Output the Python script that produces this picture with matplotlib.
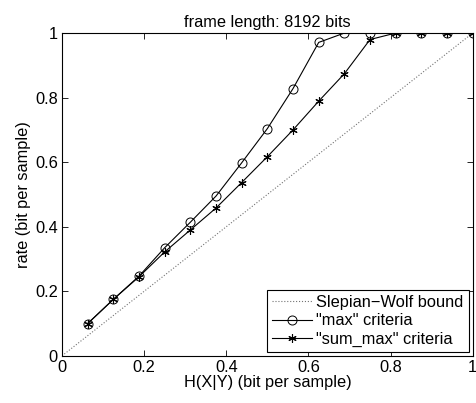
import numpy as np
import matplotlib.pyplot as plt

plt.rcParams['font.family'] = ['Liberation Sans', 'DejaVu Sans']

# H(X|Y) values
h_xy = [0.0625, 0.125, 0.1875, 0.25, 0.3125, 0.375, 0.4375, 0.5,
        0.5625, 0.625, 0.6875, 0.75, 0.8125, 0.875, 0.9375, 1.0]
# rate for "max" criteria
rate_max = [0.1, 0.175, 0.247, 0.335, 0.414, 0.495, 0.598, 0.704,
            0.828, 0.971, 1.0, 1.0, 1.0, 1.0, 1.0, 1.0]
# rate for "sum_max" criteria
rate_sum_max = [0.1, 0.175, 0.245, 0.322, 0.39, 0.458, 0.537, 0.617,
                0.7, 0.789, 0.874, 0.98, 1.0, 1.0, 1.0, 1.0]
# Slepian-Wolf bound
sw_x = [0, 1]
sw_y = [0, 1]

fs = 11.8

fig = plt.figure(figsize=(4.77, 4.03), dpi=100)
ax = fig.add_axes([0.13, 0.117, 0.861, 0.801])

ax.plot(sw_x, sw_y, linestyle=':', color='0.45', linewidth=0.8,
        label='Slepian\u2212Wolf bound')
ax.plot(h_xy, rate_max, 'k-', marker='o', markersize=6.5, markerfacecolor='none',
        markeredgewidth=0.7, linewidth=0.8, label='"max" criteria')
ax.plot(h_xy, rate_sum_max, 'k-', marker=(6, 2, 0), markersize=6,
        markeredgewidth=0.8, linewidth=0.8, label='"sum_max" criteria')

ax.set_xlim(0, 1)
ax.set_ylim(0, 1)
ticks = [0, 0.2, 0.4, 0.6, 0.8, 1]
tick_labels = ['0', '0.2', '0.4', '0.6', '0.8', '1']
ax.set_xticks(ticks)
ax.set_xticklabels(tick_labels)
ax.set_yticks(ticks)
ax.set_yticklabels(tick_labels)
ax.tick_params(direction='in', top=True, right=True, labelsize=fs, length=4, width=0.6, pad=3)
for s in ax.spines.values():
    s.set_linewidth(0.8)

ax.set_xlabel('H(X|Y) (bit per sample)', fontsize=fs, labelpad=0)
ax.set_ylabel('rate (bit per sample)', fontsize=fs, labelpad=3)
ax.set_title('frame length: 8192 bits', fontsize=fs, pad=4)

leg = ax.legend(loc='lower right', fontsize=fs, fancybox=False, edgecolor='k',
                framealpha=1, borderaxespad=0.25, handlelength=2.4,
                labelspacing=0.2, borderpad=0.3, handletextpad=0.3)
leg.get_frame().set_linewidth(0.8)

fig.savefig('out.png', dpi=100)
